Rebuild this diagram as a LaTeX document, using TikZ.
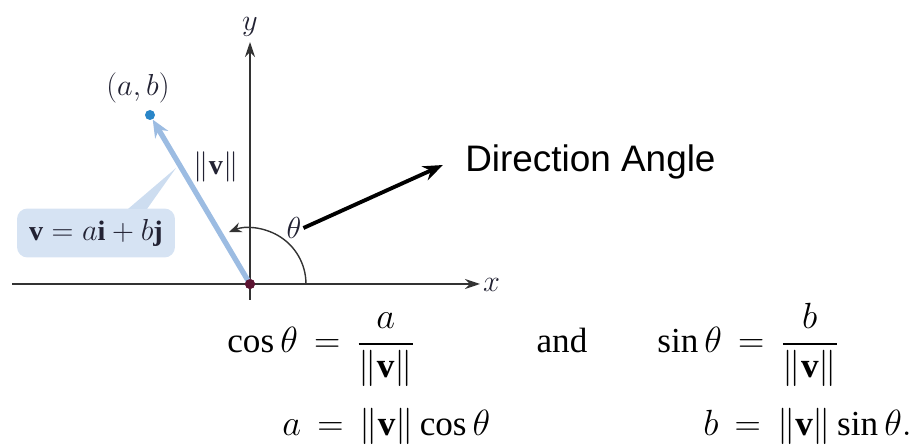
\documentclass[tikz,border=0pt]{standalone}
\usepackage{amsmath}
\usepackage{fontspec}
\setmainfont{Liberation Serif}
\newfontfamily\arialfont{Liberation Sans}
\usetikzlibrary{arrows.meta}
\definecolor{vecBlue}{HTML}{9CBCE2}
\definecolor{boxBlue}{HTML}{D6E3F3}
\definecolor{dotBlue}{HTML}{2A86C8}
\definecolor{originRed}{HTML}{5C1432}
\definecolor{axisGray}{HTML}{333333}
\definecolor{textNavy}{HTML}{222233}
\tikzset{
  axisLine/.style={-{Stealth[length=3mm, width=2mm]}, axisGray, line width=1pt},
  vecArrow/.style={-{Stealth[length=3.5mm, width=3mm]}, vecBlue, line width=3pt},
  arcArrow/.style={-{Stealth[length=2.5mm, width=2mm]}, axisGray, line width=0.8pt},
  arrowK/.style={-{Stealth[length=4mm, width=3mm]}, black, line width=2.2pt},
  lbl/.style={font=\fontsize{17.5}{21}\selectfont, text=textNavy, inner sep=1pt},
  eqn/.style={font=\fontsize{20}{24}\selectfont, anchor=base west, inner sep=0pt},
  dotA/.style={circle, inner sep=0pt, minimum size=0.2cm},
  callout/.style={rectangle, rounded corners=6pt, fill=boxBlue, text=textNavy,
                  minimum width=3.16cm, minimum height=0.98cm,
                  font=\fontsize{16}{19}\selectfont},
}

\begin{document}
\begin{tikzpicture}[x=0.02cm, y=0.02cm]
  \useasboundingbox (0,0) rectangle (910,446);
  % axes
  \coordinate (xL) at (12,162);
  \coordinate (xR) at (480,162);
  \coordinate (yB) at (250,146);
  \coordinate (yT) at (250,404);
  \draw[axisLine] (xL) -- (xR);
  \draw[axisLine] (yB) -- (yT);
  \node[lbl, right] (xLab) at (481,161) {$x$};
  \node[lbl, above] (yLab) at (250,407) {$y$};
  % callout
  \node[callout] (vCall) at (96,213) {$\mathbf{v} = a\mathbf{i} + b\mathbf{j}$};
  \coordinate (wedgeA) at (128,237);
  \coordinate (wedgeB) at (147,237);
  \coordinate (wedgeTip) at (176,278);
  \fill[boxBlue!85!vecBlue] (wedgeA) -- (wedgeB) -- (wedgeTip) -- cycle;
  % vector
  \node[dotA, fill=dotBlue] (ptAB) at (150,331) {};
  \node[dotA, fill=originRed] (orig) at (250,162) {};
  \draw[vecArrow] (orig.center) -- (ptAB);
  \node[dotA, fill=originRed] at (orig) {};
  \node[lbl] (abLab) at (138,358) {$(a, b)$};
  \node[lbl, font=\fontsize{16}{19}\selectfont] (normLab) at (216,279) {$\|\mathbf{v}\|$};
  % angle
  \draw[arcArrow] ([xshift=1.12cm]orig.center) arc[start angle=0, end angle=112, radius=1.12cm];
  \node[lbl] (thLab) at (294,218) {$\theta$};
  \node[right, inner sep=0pt, font=\arialfont\fontsize{21}{25}\selectfont] (dirLab) at (465,284) {Direction Angle};
  \draw[arrowK] (thLab.east) -- ([xshift=-0.44cm, yshift=-0.06cm]dirLab.west);
  % formulas
  \node[eqn] (cosEq) at (227,93) {$\cos\theta \,=\, \dfrac{a}{\|\mathbf{v}\|}$};
  \node[eqn, anchor=base] (andTxt) at (562,93) {and};
  \node[eqn] (sinEq) at (657,93) {$\sin\theta \,=\, \dfrac{b}{\|\mathbf{v}\|}$};
  \node[eqn] (aEq) at (282,10) {$a \,=\, \|\mathbf{v}\|\cos\theta$};
  \node[eqn] (bEq) at (703,10) {$b \,=\, \|\mathbf{v}\|\sin\theta.$};
\end{tikzpicture}
\end{document}
